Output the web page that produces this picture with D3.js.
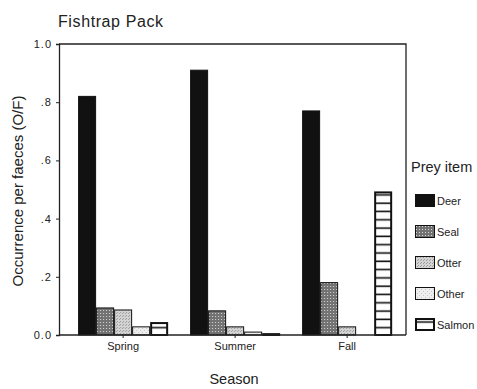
<!DOCTYPE html>
<html>
<head>
<meta charset="utf-8">
<script src="https://cdn.jsdelivr.net/npm/d3@7"></script>
<style>
  html, body { margin: 0; padding: 0; background: #fff; }
  svg text { font-family: "Liberation Sans", Arial, sans-serif; fill: #222; }
</style>
</head>
<body>
<svg id="chart" width="477" height="389"></svg>
<script>
// Occurrence of prey items per faeces, by season
const seasons = ["Spring", "Summer", "Fall"];
const preyItems = ["Deer", "Seal", "Otter", "Other", "Salmon"];
const deer   = [0.82, 0.91, 0.77];
const seal   = [0.093, 0.083, 0.18];
const otter  = [0.086, 0.028, 0.028];
const other  = [0.028, 0.01, 0.0];
const salmon = [0.041, 0.003, 0.49];
const yTickValues = [0, 0.2, 0.4, 0.6, 0.8, 1.0];
const yTickLabels = ["0.0", ".2", ".4", ".6", ".8", "1.0"];

const seriesValues = { Deer: deer, Seal: seal, Otter: otter, Other: other, Salmon: salmon };

const svg = d3.select("#chart");
const plotLeft = 59, plotRight = 406, plotTop = 44, plotBottom = 335;

// Fill patterns for each prey item
const defs = svg.append("defs");
function dotPattern(id, size, bg, dot, dots) {
  const p = defs.append("pattern").attr("id", id)
    .attr("patternUnits", "userSpaceOnUse").attr("width", size).attr("height", size);
  p.append("rect").attr("width", size).attr("height", size).attr("fill", bg);
  dots.forEach(([dx, dy]) => p.append("rect").attr("x", dx).attr("y", dy)
    .attr("width", 1).attr("height", 1).attr("fill", dot));
}
dotPattern("pat-seal", 3, "#727272", "#d8d8d8", [[1, 1]]);
dotPattern("pat-otter", 3, "#d4d4d4", "#9c9c9c", [[0, 0], [2, 1]]);
dotPattern("pat-other", 4, "#eeeeee", "#c4c4c4", [[0, 0], [2, 2]]);
const sp = defs.append("pattern").attr("id", "pat-salmon")
  .attr("patternUnits", "userSpaceOnUse").attr("width", 20).attr("height", 8.3);
sp.append("rect").attr("width", 20).attr("height", 8.3).attr("fill", "#fff");
sp.append("rect").attr("y", 3.2).attr("width", 20).attr("height", 1.6).attr("fill", "#111");

const fills = {
  Deer: "#111", Seal: "url(#pat-seal)", Otter: "url(#pat-otter)",
  Other: "url(#pat-other)", Salmon: "url(#pat-salmon)"
};
const strokeW = { Deer: 1, Seal: 1, Otter: 1, Other: 1, Salmon: 2 };

// Scales
const x0 = d3.scaleBand().domain(seasons).range([plotLeft, plotRight])
  .paddingInner(0.196).paddingOuter(0.147).align(0.58);
const x1 = d3.scaleBand().domain(preyItems).range([0, x0.bandwidth()]);
const y = d3.scaleLinear().domain([0, 1]).range([plotBottom, plotTop]);

// Frame: top and right edges
svg.append("path")
  .attr("d", `M${plotLeft},${plotTop}H${plotRight}V${plotBottom}`)
  .attr("fill", "none").attr("stroke", "#222").attr("stroke-width", 1.3);

// Bars
const groups = svg.append("g").selectAll("g").data(seasons).join("g")
  .attr("transform", d => `translate(${x0(d)},0)`);
groups.selectAll("rect")
  .data((s, i) => preyItems.map(k => ({ key: k, value: seriesValues[k][i] })).filter(d => d.value > 0))
  .join("rect")
  .attr("x", d => x1(d.key) + strokeW[d.key] / 2)
  .attr("width", d => x1.bandwidth() - strokeW[d.key])
  .attr("y", d => y(d.value))
  .attr("height", d => y(0) - y(d.value))
  .attr("fill", d => fills[d.key])
  .attr("stroke", "#111")
  .attr("stroke-width", d => strokeW[d.key]);

// Axes
const yAxis = d3.axisLeft(y).tickValues(yTickValues)
  .tickFormat((d, i) => yTickLabels[i]).tickSize(3).tickPadding(4);
const gy = svg.append("g").attr("transform", `translate(${plotLeft},0)`).call(yAxis);
gy.select(".domain").attr("stroke", "#222").attr("stroke-width", 1.3);
gy.selectAll(".tick line").attr("stroke", "#222");
gy.selectAll(".tick text").attr("font-size", 11).attr("fill", "#222")
  .attr("font-family", "Liberation Sans, Arial, sans-serif").attr("letter-spacing", 1);

const xAxis = d3.axisBottom(x0).tickSize(3).tickPadding(4);
const gx = svg.append("g").attr("transform", `translate(0,${plotBottom})`).call(xAxis);
gx.select(".domain").attr("d", `M${plotLeft},0H${plotRight}`).attr("stroke", "#222").attr("stroke-width", 1.3);
gx.selectAll(".tick line").attr("stroke", "#222");
gx.selectAll(".tick text").attr("font-size", 11).attr("fill", "#222")
  .attr("font-family", "Liberation Sans, Arial, sans-serif");

// Titles
svg.append("text").attr("x", 58).attr("y", 27).attr("font-size", 16)
  .attr("letter-spacing", 0.6).text("Fishtrap Pack");
svg.append("text").attr("transform", "translate(23,191) rotate(-90)")
  .attr("text-anchor", "middle").attr("font-size", 15)
  .text("Occurrence per faeces (O/F)");
svg.append("text").attr("x", 234).attr("y", 384).attr("text-anchor", "middle")
  .attr("font-size", 14.5).text("Season");

// Legend
svg.append("text").attr("x", 411).attr("y", 172).attr("font-size", 14.5).text("Prey item");
const legend = svg.append("g").selectAll("g").data(preyItems).join("g")
  .attr("transform", (d, i) => `translate(415,${194 + i * 31})`);
legend.append("rect")
  .attr("x", d => strokeW[d] / 2).attr("y", d => strokeW[d] / 2)
  .attr("width", d => 20 - strokeW[d]).attr("height", d => 13 - strokeW[d])
  .attr("fill", d => fills[d]).attr("stroke", "#111").attr("stroke-width", d => strokeW[d]);
legend.append("text").attr("x", 22).attr("y", 10.5).attr("font-size", 11).text(d => d);
</script>
</body>
</html>
